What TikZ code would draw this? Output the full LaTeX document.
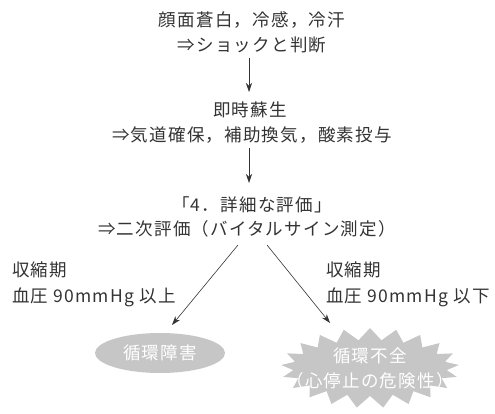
\documentclass[tikz,border=0pt]{standalone}
\usepackage{fontspec}
\setmainfont{Noto Sans CJK JP}[LetterSpace=7]
\usetikzlibrary{shapes.symbols,shapes.geometric,arrows.meta}
\begin{document}
\begin{tikzpicture}[x=1pt,y=-1pt,
  txt/.style={inner sep=0pt,text=black!80,font=\fontsize{17.5}{25}\selectfont,align=center},
  ltxt/.style={txt,anchor=west,align=left},
  wtxt/.style={txt,text=white},
  arr/.style={draw=black!80,line width=0.6pt,-{Stealth[length=9pt,width=6pt]}},
  oval/.style={ellipse,fill=gray!45,draw=none,minimum width=130pt,minimum height=40pt,inner sep=0pt,text=white,font=\fontsize{17.5}{25}\selectfont},
  burst/.style={starburst,starburst points=21,starburst point height=12pt,random starburst=0,fill=gray!45,draw=none,minimum width=178pt,minimum height=80pt,inner sep=0pt}]
\useasboundingbox (0,0) rectangle (495,414);
\node[txt] (t1) at (252,20) {顔面蒼白，冷感，冷汗};
\node[txt] (t2) at (252,45) {⇒ショックと判断};
\node[txt] (t3) at (250,110) {即時蘇生};
\node[txt] (t4) at (252,135) {⇒気道確保，補助換気，酸素投与};
\node[txt] (t5) at (252,205) {「4．詳細な評価」};
\node[txt] (t6) at (247,229) {⇒二次評価（バイタルサイン測定）};
\node[ltxt] (l1) at (12,270) {収縮期};
\node[ltxt] (l2) at (12,297) {血圧 90mmHg 以上};
\node[ltxt] (r1) at (326,270) {収縮期};
\node[ltxt] (r2) at (326,297) {血圧 90mmHg 以下};
\node[oval] (e1) at (160,353) {循環障害};
\node[burst] (s1) at (370,368) {};
\node[wtxt] (s1t) at (s1.center) {循環不全\\（心停止の危険性）};
\coordinate (a1s) at (249,58);
\coordinate (a1e) at (249,92);
\coordinate (a2s) at (249,148);
\coordinate (a2e) at (249,183);
\coordinate (a3s) at (238,245);
\coordinate (a3e) at (172,325);
\coordinate (a4s) at (267,245);
\coordinate (a4e) at (330,323);
\draw[arr] (a1s) -- (a1e);
\draw[arr] (a2s) -- (a2e);
\draw[arr] (a3s) -- (a3e);
\draw[arr] (a4s) -- (a4e);
\end{tikzpicture}
\end{document}
